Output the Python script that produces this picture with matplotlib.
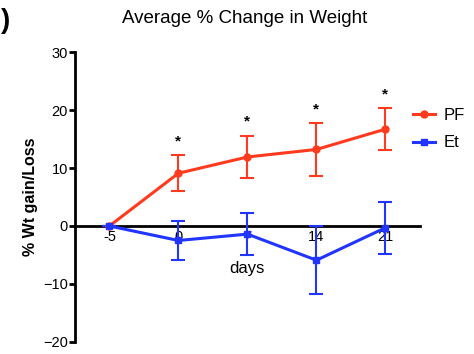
import matplotlib
matplotlib.use("Agg")
import matplotlib.pyplot as plt
from matplotlib.lines import Line2D

plt.rcParams["font.family"] = ["Liberation Sans", "DejaVu Sans"]

days = ["-5", "0", "7", "14", "21"]
pf_mean = [0.0, 9.1, 11.9, 13.2, 16.7]
pf_err = [0.0, 3.1, 3.7, 4.5, 3.6]
et_mean = [0.0, -2.5, -1.4, -5.9, -0.3]
et_err = [0.0, 3.4, 3.6, 5.9, 4.5]
signif = [False, True, True, True, True]

red = "#ff3a1e"
blue = "#2135ff"

fig = plt.figure(figsize=(4.74, 3.54), dpi=100)
ax = fig.add_axes([0.158, 0.034, 0.728, 0.819])

x = list(range(len(days)))
ax.errorbar(x, pf_mean, yerr=pf_err, color=red, marker="o", ms=5,
            lw=2.2, elinewidth=1.5, capsize=5, capthick=1.5, zorder=3)
ax.errorbar(x, et_mean, yerr=et_err, color=blue, marker="s", ms=5,
            lw=2.2, elinewidth=1.5, capsize=5, capthick=1.5, zorder=3)

# significance stars above the PF error bars
for i, s in enumerate(signif):
    if s:
        ax.text(x[i], pf_mean[i] + pf_err[i] + 2.4, "*", ha="center", va="center",
                fontsize=11, fontweight="bold")

ax.set_xlim(-0.5, 4.5)
ax.set_ylim(-20, 30)
ax.set_yticks([-20, -10, 0, 10, 20, 30])
ax.set_xticks(x)
ax.set_xticklabels(days)

ax.spines["top"].set_visible(False)
ax.spines["right"].set_visible(False)
ax.spines["left"].set_linewidth(2)
ax.spines["bottom"].set_position(("data", 0))
ax.spines["bottom"].set_linewidth(2)
ax.tick_params(axis="y", direction="out", length=4, width=2, labelsize=10.5, pad=1)
ax.tick_params(axis="x", length=0, labelsize=10.5, pad=3)

ax.set_xlabel("days", fontsize=12, labelpad=12)
ax.set_ylabel("% Wt gain/Loss", fontsize=11.5, fontweight="bold", labelpad=4)
fig.text(0.517, 0.948, "Average % Change in Weight", ha="center", va="center", fontsize=13.5)
fig.text(0.002, 0.94, ")", ha="left", va="center", fontsize=20, fontweight="bold")

handles = [
    Line2D([], [], color=red, marker="o", ms=5, lw=2.2),
    Line2D([], [], color=blue, marker="s", ms=5, lw=2.2),
]
ax.legend(handles, ["PF", "Et"], loc="upper left", bbox_to_anchor=(0.872, 0.695),
          bbox_transform=fig.transFigure, frameon=False, fontsize=12,
          handlelength=1.3, handletextpad=0.5, borderpad=0, borderaxespad=0,
          labelspacing=0.75)

fig.savefig("out.png", dpi=100)
